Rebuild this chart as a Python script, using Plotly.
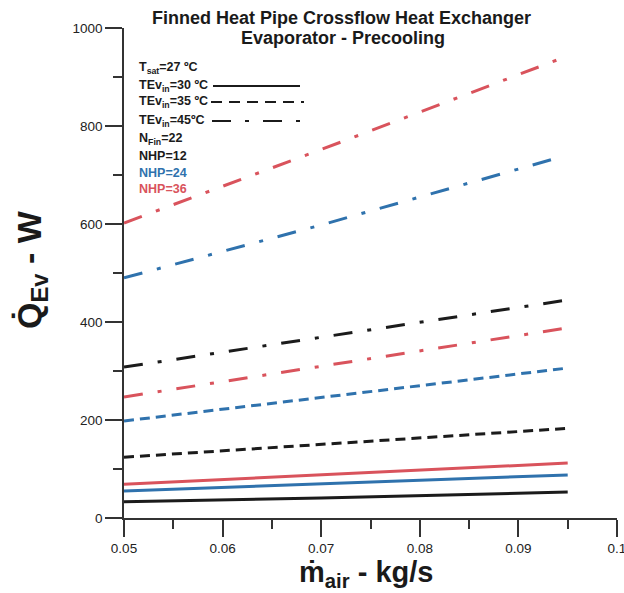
import plotly.graph_objects as go

# Mass flow rate of air (kg/s)
m_air = [0.05, 0.07, 0.095]
m_air_nhp24_45 = [0.05, 0.07, 0.094]

# Q_Ev (W) for each case
q_nhp12_30 = [33, 41, 53]
q_nhp24_30 = [55, 70, 88]
q_nhp36_30 = [69, 88, 112]
q_nhp12_35 = [124, 150, 183]
q_nhp24_35 = [198, 246, 306]
q_nhp36_35 = [247, 310, 388]
q_nhp12_45 = [308, 369, 445]
q_nhp24_45 = [490, 598, 735]
q_nhp36_45 = [602, 752, 943]

# Axis ticks
x_tickvals = [0.05, 0.06, 0.07, 0.08, 0.09, 0.1]
x_ticktext = ["0.05", "0.06", "0.07", "0.08", "0.09", "0.1"]
y_tickvals = [0, 200, 400, 600, 800, 1000]

BLACK = "#1b1b1b"
BLUE = "#2f72ad"
RED = "#d9535c"
DASH = "10px,6px"
DASHDOT = "19px,15px,4px,15px"

series = [
    (m_air, q_nhp12_30, BLACK, "solid"),
    (m_air, q_nhp24_30, BLUE, "solid"),
    (m_air, q_nhp36_30, RED, "solid"),
    (m_air, q_nhp12_35, BLACK, DASH),
    (m_air, q_nhp24_35, BLUE, DASH),
    (m_air, q_nhp36_35, RED, DASHDOT),
    (m_air, q_nhp12_45, BLACK, DASHDOT),
    (m_air_nhp24_45, q_nhp24_45, BLUE, DASHDOT),
    (m_air, q_nhp36_45, RED, DASHDOT),
]

fig = go.Figure()
for x, y, c, d in series:
    fig.add_trace(go.Scatter(x=x, y=y, mode="lines",
                             line=dict(color=c, width=3, dash=d),
                             showlegend=False, hoverinfo="skip"))

FONT = "Liberation Sans, Arial, sans-serif"
L, T, PW, PH = 124, 28, 493, 490

def px(x):
    return (x - L) / PW

def py(y):
    return 1 - (y - T) / PH

fig.update_layout(
    width=624, height=593,
    margin=dict(l=L, r=624 - L - PW, t=T, b=593 - T - PH),
    paper_bgcolor="white", plot_bgcolor="white",
    font=dict(family=FONT, color="#222", size=13),
    xaxis=dict(range=[0.05, 0.1], tickmode="array", tickvals=x_tickvals, ticktext=x_ticktext,
               showgrid=False, zeroline=False, automargin=False, ticklabeloverflow="allow",
               showline=True, linecolor="#333", linewidth=1.5,
               ticks="outside", ticklen=17, tickwidth=1.5, tickcolor="#333",
               minor=dict(dtick=0.005, tick0=0.05, ticklen=9, tickwidth=1.5, tickcolor="#333", ticks="outside"),
               tickfont=dict(size=13.5, family=FONT, color="#222")),
    yaxis=dict(range=[0, 1000], tickmode="array", tickvals=y_tickvals,
               showgrid=False, zeroline=False, automargin=False, ticklabeloverflow="allow",
               showline=True, linecolor="#333", linewidth=1.5,
               ticks="outside", ticklen=17, tickwidth=1.5, tickcolor="#333",
               minor=dict(dtick=100, ticklen=9, tickwidth=1.5, tickcolor="#333", ticks="outside"),
               tickfont=dict(size=13.5, family=FONT, color="#222")),
)

# Axis titles
fig.add_annotation(text="<b>ṁ<sub>air</sub> - kg/s</b>", xref="paper", yref="paper",
                   x=px(366), y=py(574), showarrow=False, xanchor="center", yanchor="middle",
                   font=dict(size=29, family=FONT, color="#1a1a1a"))
fig.add_annotation(text="<b>Q̇<sub>Ev</sub> - W</b>", xref="paper", yref="paper",
                   x=px(31), y=py(270), showarrow=False, xanchor="center", yanchor="middle",
                   textangle=-90, font=dict(size=34, family=FONT, color="#1a1a1a"))

# Title (two lines)
fig.add_annotation(text="<b>Finned Heat Pipe Crossflow Heat Exchanger</b>",
                   xref="paper", yref="paper", x=px(341), y=py(18),
                   showarrow=False, font=dict(size=18, family=FONT, color="#1a1a1a"),
                   xanchor="center", yanchor="middle")
fig.add_annotation(text="<b>Evaporator - Precooling</b>",
                   xref="paper", yref="paper", x=px(343), y=py(38),
                   showarrow=False, font=dict(size=18, family=FONT, color="#1a1a1a"),
                   xanchor="center", yanchor="middle")

# Key text
key = [
    ("T<sub>sat</sub>=27 ºC", BLACK, 68),
    ("TEv<sub>in</sub>=30 ºC", BLACK, 86),
    ("TEv<sub>in</sub>=35 ºC", BLACK, 102),
    ("TEv<sub>in</sub>=45ºC", BLACK, 121),
    ("N<sub>Fin</sub>=22", BLACK, 139),
    ("NHP=12", BLACK, 156),
    ("NHP=24", BLUE, 173),
    ("NHP=36", RED, 189),
]
for txt, c, yy in key:
    fig.add_annotation(text="<b>" + txt + "</b>", xref="paper", yref="paper",
                       x=px(137), y=py(yy), showarrow=False, xanchor="left", yanchor="middle",
                       font=dict(size=12.5, family=FONT, color=c))

# Key line samples
for x0, x1, yy, d in [(213, 300, 86, "solid"), (211, 304, 102, "11px,7px"),
                      (212, 302, 121, "19px,14px,4px,14px")]:
    fig.add_shape(type="line", xref="paper", yref="paper",
                  x0=px(x0), x1=px(x1), y0=py(yy), y1=py(yy),
                  line=dict(color=BLACK, width=2, dash=d))

fig.write_html("out.html")
